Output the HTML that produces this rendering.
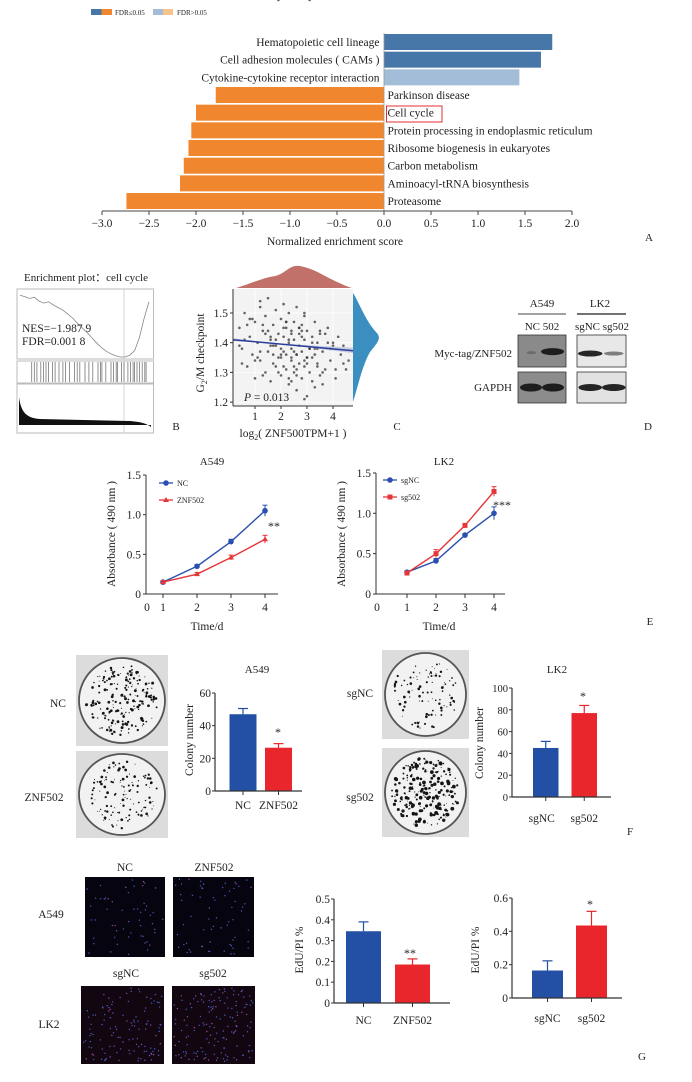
<!DOCTYPE html>
<html><head><meta charset="utf-8"><style>
html,body{margin:0;padding:0;background:#fff;}
svg{display:block;font-family:"Liberation Serif",serif;}
</style></head><body>
<svg id="fig" width="692" height="1082" viewBox="0 0 692 1082" xmlns="http://www.w3.org/2000/svg">
<g id="pA"></g>
<g id="pB"></g>
<g id="pC"></g>
<g id="pD"></g>
<g id="pE"></g>
<g id="pF"></g>
<g id="pG"></g>
</svg>
<script>
// ---------- DATA ----------
const pathways = ["Hematopoietic cell lineage","Cell adhesion molecules ( CAMs )","Cytokine-cytokine receptor interaction","Parkinson disease","Cell cycle","Protein processing in endoplasmic reticulum","Ribosome biogenesis in eukaryotes","Carbon metabolism","Aminoacyl-tRNA biosynthesis","Proteasome"];
const nesValues = [1.79,1.67,1.44,-1.79,-2.00,-2.05,-2.08,-2.13,-2.17,-2.74];
const fdrSig = [true,true,false,true,true,true,true,true,true,true];
const nesTicks = [-3.0,-2.5,-2.0,-1.5,-1.0,-0.5,0.0,0.5,1.0,1.5,2.0];

const gseaES = [0.95,0.93,0.9,0.92,0.86,0.83,0.85,0.8,0.76,0.72,0.66,0.6,0.52,0.45,0.38,0.3,0.22,0.15,0.09,0.05,0.02,0.0,0.0,0.03,0.1,0.3,0.6,0.85];
const gseaHits = [0.09,0.11,0.13,0.16,0.18,0.2,0.22,0.25,0.27,0.3,0.33,0.35,0.38,0.42,0.44,0.46,0.5,0.53,0.56,0.6,0.62,0.63,0.66,0.7,0.72,0.74,0.75,0.78,0.8,0.83,0.85,0.87,0.88,0.9,0.92,0.94,0.96,0.97];

const scX = [0.4,0.5,0.6,0.7,0.8,0.9,1.0,1.0,1.1,1.2,1.2,1.3,1.4,1.4,1.5,1.5,1.6,1.6,1.7,1.7,1.8,1.8,1.9,1.9,2.0,2.0,2.0,2.1,2.1,2.2,2.2,2.2,2.3,2.3,2.3,2.4,2.4,2.4,2.5,2.5,2.5,2.6,2.6,2.6,2.7,2.7,2.7,2.8,2.8,2.8,2.9,2.9,2.9,3.0,3.0,3.0,3.1,3.1,3.2,3.2,3.3,3.3,3.4,3.4,3.5,3.5,3.6,3.7,3.8,3.9,4.0,4.1,4.2,4.3,4.5,0.6,1.1,1.3,1.6,1.8,2.1,2.4,2.6,2.9,3.2,3.6,3.9,4.4,0.8,1.5,2.0,2.3,2.7,3.1,3.4,1.2,1.9,2.5,2.8,3.0,3.3,2.2,2.6,4.6,0.4,1.4,2.0,2.9,3.5,1.7,2.4,3.8,0.5,0.9,1.3,1.7,2.1,2.5,2.9,3.3,3.7,4.1,0.7,1.2,1.8,2.3,2.8,3.2,3.6,4.0,4.4,1.0,1.6,2.2,2.6,3.0,3.4,2.4,2.7,2.1,3.1,1.9];
const scY = [1.45,1.38,1.50,1.32,1.42,1.36,1.47,1.28,1.40,1.52,1.34,1.44,1.30,1.49,1.37,1.55,1.41,1.27,1.46,1.33,1.39,1.51,1.35,1.43,1.29,1.48,1.38,1.42,1.53,1.31,1.45,1.36,1.40,1.26,1.50,1.34,1.44,1.38,1.47,1.30,1.41,1.36,1.52,1.24,1.43,1.33,1.39,1.46,1.28,1.37,1.41,1.32,1.49,1.35,1.44,1.22,1.38,1.30,1.42,1.27,1.36,1.47,1.33,1.40,1.29,1.44,1.37,1.31,1.45,1.34,1.39,1.28,1.42,1.36,1.31,1.41,1.35,1.46,1.39,1.32,1.37,1.43,1.29,1.34,1.40,1.26,1.38,1.33,1.48,1.44,1.35,1.41,1.45,1.38,1.32,1.54,1.30,1.37,1.42,1.35,1.25,1.47,1.31,1.34,1.39,1.43,1.36,1.21,1.43,1.39,1.35,1.40,1.33,1.48,1.29,1.36,1.45,1.32,1.50,1.38,1.43,1.31,1.46,1.37,1.41,1.28,1.44,1.35,1.30,1.40,1.39,1.34,1.42,1.47,1.36,1.33,1.38,1.27,1.45,1.32];

const days = [1,2,3,4];
const a549NC = [0.15,0.35,0.66,1.05];
const a549NCerr = [0.02,0.02,0.03,0.07];
const a549ZNF = [0.15,0.25,0.46,0.69];
const a549ZNFerr = [0.02,0.02,0.03,0.05];
const lk2NC = [0.27,0.41,0.73,1.0];
const lk2NCerr = [0.02,0.03,0.02,0.08];
const lk2SG = [0.26,0.50,0.85,1.27];
const lk2SGerr = [0.02,0.05,0.02,0.06];
const absTicks = [0,0.5,1.0,1.5];
const absTickLabels = ["0","0.5","1.0","1.5"];

const colA549Labels = ["NC","ZNF502"];
const colA549 = [47,26.5];
const colA549err = [3.5,2.5];
const colA549Ticks = [0,20,40,60];
const colLK2Labels = ["sgNC","sg502"];
const colLK2 = [45,77];
const colLK2err = [6,7];
const colLK2Ticks = [0,20,40,60,80,100];

const eduA549 = [0.345,0.185];
const eduA549err = [0.045,0.027];
const eduA549Ticks = [0,0.1,0.2,0.3,0.4,0.5];
const eduLK2 = [0.165,0.435];
const eduLK2err = [0.058,0.085];
const eduLK2Ticks = [0,0.2,0.4,0.6];

// ---------- HELPERS ----------
const NS="http://www.w3.org/2000/svg";
function mk(parent,tag,attrs,text){const e=document.createElementNS(NS,tag);for(const k in attrs)e.setAttribute(k,attrs[k]);if(text!==undefined)e.textContent=text;parent.appendChild(e);return e;}
function txt(parent,x,y,s,size,anchor,name,extra){const e=mk(parent,'text',Object.assign({x:x,y:y,'font-size':size,'text-anchor':anchor||'middle',fill:'#222'},extra||{}),s);


return e;}
let seed=12345;function rnd(){seed=(seed*1103515245+12345)%2147483648;return seed/2147483648;}

// ---------- PANEL A ----------
(function(){
const g=document.getElementById('pA');
const x0=384, unit=94, axY=211;
const xs=v=>x0+v*unit;
const lg=mk(g,'g',{});


mk(lg,'rect',{x:91,y:9,width:10.5,height:6,fill:'#4677a8'});
mk(lg,'rect',{x:101.5,y:9,width:10.5,height:6,fill:'#f0872e'});
txt(lg,115,15,"FDR≤0.05",7,'start','legend-fdr-sig');
mk(lg,'rect',{x:153,y:9,width:10,height:6,fill:'#a3bcd8'});
mk(lg,'rect',{x:163,y:9,width:10,height:6,fill:'#f7c48c'});
txt(lg,177,15,"FDR>0.05",7,'start','legend-fdr-nonsig');
const pitch=17.67;
pathways.forEach((p,i)=>{
  const top=34+i*pitch, v=nesValues[i];
  const col=v>0?(fdrSig[i]?'#4677a8':'#a3bcd8'):(fdrSig[i]?'#f0872e':'#f7c48c');
  const r=mk(g,'rect',{x:Math.min(xs(v),x0),y:top,width:Math.abs(xs(v)-x0),height:16,fill:col});
  
  
  if(v>0) txt(g,379.5,top+12,p,11.5,'end','pathway-label');
  else txt(g,387.5,top+12,p,11.5,'start','pathway-label');
});
const hb=mk(g,'rect',{x:386.5,y:106,width:55.5,height:16,fill:'none',stroke:'#e03030','stroke-width':1});


mk(g,'line',{x1:x0,y1:33,x2:x0,y2:211,stroke:'#999','stroke-width':0.8});
mk(g,'line',{x1:xs(-3),y1:axY,x2:xs(2),y2:axY,stroke:'#444','stroke-width':1});
nesTicks.forEach(t=>{mk(g,'line',{x1:xs(t),y1:axY,x2:xs(t),y2:axY+4,stroke:'#444'});
  txt(g,xs(t),227,(t<0?'−':'')+Math.abs(t).toFixed(1),11.5,'middle','x-tick-label');});
txt(g,335,245,"Normalized enrichment score",11.5,'middle','x-axis-title');
txt(g,649,241,"A",11,'middle','panel-label-a');
})();

// ---------- PANEL B ----------
(function(){
const g=document.getElementById('pB');
txt(g,86,281,"Enrichment plot：cell cycle",11,'middle','gsea-title');
mk(g,'rect',{x:17,y:289,width:136.5,height:70,fill:'#fff',stroke:'#bbb','stroke-width':1});
mk(g,'rect',{x:17,y:361,width:136.5,height:22,fill:'#fff',stroke:'#bbb','stroke-width':1});
mk(g,'rect',{x:17,y:384,width:136.5,height:49,fill:'#fff',stroke:'#bbb','stroke-width':1});
mk(g,'line',{x1:124,y1:289,x2:124,y2:433,stroke:'#ccc','stroke-width':0.8});
const esX=i=>20+i*(129/(gseaES.length-1)), esY=v=>357-v*65;
const d=gseaES.map((v,i)=>(i?'L':'M')+esX(i).toFixed(1)+','+esY(v).toFixed(1)).join('');
const pe=mk(g,'path',{d:d,fill:'none',stroke:'#888','stroke-width':0.8});


gseaHits.forEach(h=>{const l=mk(g,'line',{x1:20+h*130,y1:362,x2:20+h*130,y2:382,stroke:'#777','stroke-width':0.8});

});
mk(g,'path',{d:'M19,397 C21,412 26,418 40,419 L130,421 C140,422 146,423 151,427 L151,425 L19,425 Z',fill:'#111'});
txt(g,22,332,"NES=−1.987 9",11.5,'start','nes-value');
txt(g,22,345,"FDR=0.001 8",11.5,'start','fdr-value');
txt(g,176,430,"B",11,'middle','panel-label-b');
})();

// ---------- PANEL C ----------
(function(){
const g=document.getElementById('pC');
const xs=v=>255+(v-1)*26, ys=v=>313+(1.5-v)*297;
mk(g,'path',{d:'M236,288 C250,284 262,278 275,276 C285,274 290,264 300,266 C310,268 318,272 325,276 C335,281 345,286 352,288 Z',fill:'#c2706a'});
mk(g,'path',{d:'M353,293 C358,300 365,320 376,332 C382,338 378,342 370,352 C362,366 357,390 353,402 Z',fill:'#3b8fc0'});
mk(g,'rect',{x:233,y:289,width:120,height:117,fill:'#f3f3f3'});
[1,2,3,4].forEach(t=>mk(g,'line',{x1:xs(t),y1:289,x2:xs(t),y2:406,stroke:'#fff','stroke-width':0.8}));
[1.2,1.3,1.4,1.5].forEach(t=>mk(g,'line',{x1:233,y1:ys(t),x2:353,y2:ys(t),stroke:'#fff','stroke-width':0.8}));
scX.forEach((x,i)=>{const c=mk(g,'circle',{cx:xs(x),cy:ys(scY[i]),r:1.3,fill:'#333','fill-opacity':0.75});

});
mk(g,'path',{d:`M233,${ys(1.415)} L353,${ys(1.365)} L353,${ys(1.383)} L233,${ys(1.405)} Z`,fill:'#aab3d4','fill-opacity':0.6});
const rl=mk(g,'line',{x1:233,y1:ys(1.41),x2:353,y2:ys(1.373),stroke:'#2c3e9a','stroke-width':1.5});


mk(g,'line',{x1:233,y1:289,x2:233,y2:406,stroke:'#333'});
mk(g,'line',{x1:233,y1:406,x2:353,y2:406,stroke:'#333'});
[1.2,1.3,1.4,1.5].forEach(t=>{mk(g,'line',{x1:230,y1:ys(t),x2:233,y2:ys(t),stroke:'#333'});txt(g,228,ys(t)+4,t.toFixed(1),11.5,'end','y-tick-label');});
[1,2,3,4].forEach(t=>{mk(g,'line',{x1:xs(t),y1:406,x2:xs(t),y2:409,stroke:'#333'});txt(g,xs(t),420,String(t),11.5,'middle','x-tick-label');});
const yt=txt(g,0,0,"",11.5,'middle','y-axis-title',{transform:'translate(204,353) rotate(-90)'});
yt.innerHTML='G<tspan font-size="8" dy="3">2</tspan><tspan dy="-3">/M checkpoint</tspan>';
const xt=txt(g,293,437,"",11.5,'middle','x-axis-title');
xt.innerHTML='log<tspan font-size="8" dy="3">2</tspan><tspan dy="-3">( ZNF500TPM+1 )</tspan>';
const pt=txt(g,244,401,"",11.5,'start','p-value');
pt.innerHTML='<tspan font-style="italic">P</tspan> = 0.013';
txt(g,397,430,"C",11,'middle','panel-label-c');
})();

// ---------- PANEL D ----------
(function(){
const g=document.getElementById('pD');
txt(g,542,307,"A549",11,'middle','a549-header');
txt(g,600,307,"LK2",11,'middle','lk2-header');
mk(g,'line',{x1:518,y1:314,x2:566,y2:314,stroke:'#444'});
mk(g,'line',{x1:577,y1:314,x2:626,y2:314,stroke:'#444','stroke-width':1.5});
txt(g,542,330,"NC 502",11,'middle','a549-lanes');
txt(g,602,330,"sgNC sg502",11,'middle','lk2-lanes');
txt(g,512,357,"Myc-tag/ZNF502",11,'end','myc-tag-label');
txt(g,512,391,"GAPDH",11,'end','gapdh-label');
const blot=(x,y,w,h,bg,bands,name)=>{const b=mk(g,'g',{});


mk(b,'rect',{x:x,y:y,width:w,height:h,fill:bg,stroke:'#333','stroke-width':0.8});
bands.forEach(bd=>mk(b,'ellipse',{cx:x+bd[0]*w,cy:y+bd[1]*h,rx:bd[2]*w,ry:bd[3],fill:'#111','fill-opacity':bd[4]}));};
blot(518,335,48,32,'#8a8a8a',[[0.28,0.55,0.1,1.5,0.25],[0.72,0.52,0.24,3.5,0.9]],'blot-a549-myc');
blot(518,372,48,31,'#8c8c8c',[[0.27,0.5,0.23,4,0.9],[0.73,0.5,0.23,4,0.9]],'blot-a549-gapdh');
blot(577,335,49,32,'#e8e8e8',[[0.27,0.58,0.25,3,0.9],[0.75,0.58,0.2,2,0.5]],'blot-lk2-myc');
blot(577,372,49,31,'#e2e2e2',[[0.27,0.5,0.24,3.5,0.9],[0.75,0.5,0.24,3.5,0.9]],'blot-lk2-gapdh');
txt(g,648,430,"D",11,'middle','panel-label-d');
})();

// ---------- PANEL E ----------
function lineChart(g,o){
  const xs=d=>o.x1+(d-1)*o.dx, ys=v=>o.y0-v*o.sy;
  mk(g,'line',{x1:o.ax,y1:ys(1.5),x2:o.ax,y2:o.y0,stroke:'#333'});
  mk(g,'line',{x1:o.ax,y1:o.y0,x2:o.xEnd,y2:o.y0,stroke:'#333'});
  absTicks.forEach((t,i)=>{mk(g,'line',{x1:o.ax-3,y1:ys(t),x2:o.ax,y2:ys(t),stroke:'#333'});txt(g,o.ax-5,ys(t)+4,absTickLabels[i],11.5,'end','y-tick-label');});
  txt(g,o.ax+1,611,"0",11.5,'middle','x-tick-label');
  days.forEach(d=>{mk(g,'line',{x1:xs(d),y1:o.y0,x2:xs(d),y2:o.y0+4,stroke:'#333'});txt(g,xs(d),611,String(d),11.5,'middle','x-tick-label');});
  o.series.forEach(s=>{
    const path=s.v.map((v,i)=>(i?'L':'M')+xs(days[i])+','+ys(v)).join('');
    const p=mk(g,'path',{d:path,fill:'none',stroke:s.c,'stroke-width':1.4});
    
    
    s.v.forEach((v,i)=>{const x=xs(days[i]),y=ys(v),e=s.e[i]*o.sy;
      mk(g,'line',{x1:x,y1:y-e,x2:x,y2:y+e,stroke:s.c});mk(g,'line',{x1:x-2.5,y1:y-e,x2:x+2.5,y2:y-e,stroke:s.c});
      let m;
      if(s.m==='tri') m=mk(g,'path',{d:`M${x},${y-3} L${x+3},${y+2} L${x-3},${y+2} Z`,fill:s.c});
      else if(s.m==='sq') m=mk(g,'rect',{x:x-2.5,y:y-2.5,width:5,height:5,fill:s.c});
      else m=mk(g,'circle',{cx:x,cy:y,r:2.8,fill:s.c});
      
      
    });
    mk(g,'line',{x1:s.lx,y1:s.ly,x2:s.lx+14,y2:s.ly,stroke:s.c,'stroke-width':1.3});
    if(s.m==='tri') mk(g,'path',{d:`M${s.lx+7},${s.ly-3} L${s.lx+10},${s.ly+2} L${s.lx+4},${s.ly+2} Z`,fill:s.c});
    else if(s.m==='sq') mk(g,'rect',{x:s.lx+4.5,y:s.ly-2.5,width:5,height:5,fill:s.c});
    else mk(g,'circle',{cx:s.lx+7,cy:s.ly,r:2.8,fill:s.c});
    txt(g,s.lx+18,s.ly+3,s.label,8,'start','legend-label');
  });
  txt(g,o.tx,465,o.title,11,'middle','chart-title');
  txt(g,o.tx-5,630,"Time/d",11.5,'middle','x-axis-title');
  txt(g,0,0,"Absorbance ( 490 nm )",11.5,'middle','y-axis-title',{transform:`translate(${o.ax-31},534) rotate(-90)`});
  txt(g,o.sx,o.sy2,o.stars,12,'middle','significance');
}
(function(){
const g=document.getElementById('pE');
lineChart(g,{ax:146,x1:163,dx:34,y0:594,sy:79.3,xEnd:278,tx:212,title:"A549",sx:274,sy2:530,stars:"**",
 series:[{v:a549NC,e:a549NCerr,c:'#2a4fb0',m:'circ',label:'NC',lx:159,ly:483,name:'a549-nc'},{v:a549ZNF,e:a549ZNFerr,c:'#e5363a',m:'tri',label:'ZNF502',lx:159,ly:500,name:'a549-znf502'}]});
lineChart(g,{ax:376,x1:407,dx:29,y0:594,sy:80.7,xEnd:505,tx:444,title:"LK2",sx:502,sy2:509,stars:"***",
 series:[{v:lk2NC,e:lk2NCerr,c:'#2a4fb0',m:'circ',label:'sgNC',lx:383,ly:480,name:'lk2-sgnc'},{v:lk2SG,e:lk2SGerr,c:'#e5363a',m:'sq',label:'sg502',lx:383,ly:497,name:'lk2-sg502'}]});
txt(g,650,625,"E",11,'middle','panel-label-e');
})();

// ---------- bar chart helper ----------
function barChart(g,o){
  const ys=v=>o.y0-v/o.max*(o.y0-o.yTop);
  o.vals.forEach((v,i)=>{const c=i?'#e8262b':'#2350a5';
    const x=o.bx[i];
    const err=ys(v)-ys(v+o.err[i]);
    mk(g,'line',{x1:x+o.bw/2,y1:ys(v)-err,x2:x+o.bw/2,y2:ys(v),stroke:c,'stroke-width':1.2});
    mk(g,'line',{x1:x+o.bw/2-5,y1:ys(v)-err,x2:x+o.bw/2+5,y2:ys(v)-err,stroke:c,'stroke-width':1.2});
    const r=mk(g,'rect',{x:x,y:ys(v),width:o.bw,height:o.y0-ys(v),fill:c});
    
    
    mk(g,'line',{x1:x+o.bw/2,y1:o.y0,x2:x+o.bw/2,y2:o.y0+4,stroke:'#333'});
    txt(g,x+o.bw/2+(o.lshift?o.lshift[i]:0),o.ly,o.labels[i],11.5,'middle','x-tick-label');
  });
  mk(g,'line',{x1:o.ax,y1:o.yTop,x2:o.ax,y2:o.y0,stroke:'#333','stroke-width':1.2});
  mk(g,'line',{x1:o.ax,y1:o.y0,x2:o.xEnd,y2:o.y0,stroke:'#333','stroke-width':1.2});
  o.ticks.forEach((t,i)=>{mk(g,'line',{x1:o.ax-3,y1:ys(t),x2:o.ax,y2:ys(t),stroke:'#333'});txt(g,o.ax-4,ys(t)+4,o.tickLabels[i],o.tfs||11.5,'end','y-tick-label');});
  txt(g,0,0,o.ytitle,11.5,'middle','y-axis-title',{transform:`translate(${o.ytx},${o.yty}) rotate(-90)`});
  txt(g,o.starX,o.starY,o.stars,12,'middle','significance');
  if(o.title) txt(g,o.titleX,o.titleY,o.title,11,'middle','chart-title');
}
function plate(g,x,y,w,h,n,dark,name){
  const p=mk(g,'g',{});
  
  
  mk(p,'rect',{x:x,y:y,width:w,height:h,fill:'#dcdcdc'});
  mk(p,'ellipse',{cx:x+w/2,cy:y+h/2,rx:w/2-3,ry:h/2-3,fill:'#f2f2f2',stroke:'#555','stroke-width':1.8});
  for(let i=0;i<n;i++){const a=rnd()*6.283,r=Math.sqrt(rnd())*0.9;
    mk(p,'circle',{cx:x+w/2+Math.cos(a)*r*(w/2-6),cy:y+h/2+Math.sin(a)*r*(h/2-6),r:0.4+rnd()*dark,fill:'#151515'});}
}
function micro(g,x,y,w,h,n,red,name){
  const p=mk(g,'g',{});
  
  
  mk(p,'rect',{x:x,y:y,width:w,height:h,fill:red?'#120610':'#06040e'});
  for(let i=0;i<n;i++){mk(p,'circle',{cx:x+2+rnd()*(w-4),cy:y+2+rnd()*(h-4),r:0.7,fill:rnd()<0.2?'#9a4aa8':'#4a5ac0'});}
}

// ---------- PANEL F ----------
(function(){
const g=document.getElementById('pF');
plate(g,76,655,92,91,200,1.1,'plate-a549-nc');
plate(g,76,751,92,87,120,1.0,'plate-a549-znf502');
plate(g,382,650,87,89,100,1.0,'plate-lk2-sgnc');
plate(g,382,748,87,89,230,1.5,'plate-lk2-sg502');
txt(g,58,707,"NC",11.5,'middle','plate-label-nc');
txt(g,44,801,"ZNF502",11.5,'middle','plate-label-znf502');
txt(g,360,697,"sgNC",11.5,'middle','plate-label-sgnc');
txt(g,360,801,"sg502",11.5,'middle','plate-label-sg502');
barChart(g,{vals:colA549,err:colA549err,labels:colA549Labels,bx:[229.5,265],bw:27,ax:215,xEnd:302,y0:791,yTop:693,max:60,
 ticks:colA549Ticks,tickLabels:colA549Ticks.map(String),ly:809,ytitle:"Colony number",ytx:193,yty:740,stars:"*",starX:278,starY:736,title:"A549",titleX:257,titleY:673});
barChart(g,{vals:colLK2,err:colLK2err,labels:colLK2Labels,bx:[533,571.5],bw:25.5,ax:512,xEnd:611,y0:797,yTop:688,max:100,lshift:[-4,0],tfs:10.5,
 ticks:colLK2Ticks,tickLabels:colLK2Ticks.map(String),ly:822,ytitle:"Colony number",ytx:483,yty:743,stars:"*",starX:583,starY:700,title:"LK2",titleX:557,titleY:673});
txt(g,630,835,"F",11,'middle','panel-label-f');
})();

// ---------- PANEL G ----------
(function(){
const g=document.getElementById('pG');
txt(g,125,871,"NC",11.5,'middle','col-label-nc');
txt(g,214,871,"ZNF502",11.5,'middle','col-label-znf502');
txt(g,126,977,"sgNC",11.5,'middle','col-label-sgnc');
txt(g,213,977,"sg502",11.5,'middle','col-label-sg502');
txt(g,51,918,"A549",11.5,'middle','row-label-a549');
txt(g,49,1028,"LK2",11.5,'middle','row-label-lk2');
micro(g,85,877,80,80,55,false,'edu-image-a549-nc');
micro(g,173,877,81,80,65,false,'edu-image-a549-znf502');
micro(g,81,986,83,78,120,true,'edu-image-lk2-sgnc');
micro(g,172,986,83,78,150,true,'edu-image-lk2-sg502');
barChart(g,{vals:eduA549,err:eduA549err,labels:colA549Labels,bx:[346,395],bw:35,ax:334,xEnd:450,y0:1003,yTop:899,max:0.5,
 ticks:eduA549Ticks,tickLabels:["0","0.1","0.2","0.3","0.4","0.5"],ly:1024,ytitle:"EdU/PI %",ytx:303,yty:950,stars:"**",starX:410,starY:957});
barChart(g,{vals:eduLK2,err:eduLK2err,labels:colLK2Labels,bx:[532,576],bw:31,ax:512,xEnd:622,y0:998,yTop:898,max:0.6,
 ticks:eduLK2Ticks,tickLabels:["0","0.2","0.4","0.6"],ly:1022,ytitle:"EdU/PI %",ytx:479,yty:950,stars:"*",starX:590,starY:908});
txt(g,642,1060,"G",11,'middle','panel-label-g');
})();
</script>
</body></html>
